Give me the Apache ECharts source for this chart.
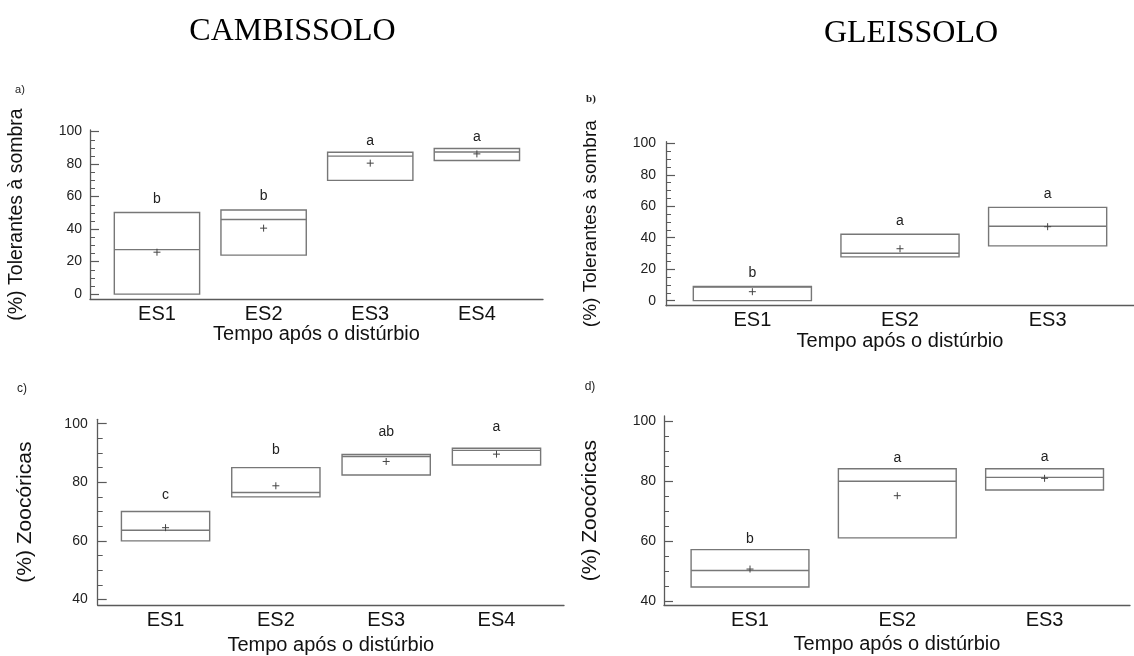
<!DOCTYPE html>
<html>
<head>
<meta charset="utf-8">
<script src="https://cdn.jsdelivr.net/npm/echarts@6/dist/echarts.min.js"></script>
<style>html,body{margin:0;padding:0;background:#fff}#c{width:1134px;height:656px}</style>
</head>
<body>
<div id="c"></div>
<script>
// ---------- DATA ----------
const cats4 = ['ES1', 'ES2', 'ES3', 'ES4'];
const cats3 = ['ES1', 'ES2', 'ES3'];
const soilTitles = ['CAMBISSOLO', 'GLEISSOLO'];
const panelTags = ['a)', 'b)', 'c)', 'd)'];
const yNameShade = '(%) Tolerantes à sombra';
const yNameZoo = '(%) Zoocóricas';
const xName = 'Tempo após o distúrbio';

// a) Cambissolo - tolerantes à sombra
const aLow    = [0, 24, 70, 82.2];
const aHigh   = [50.2, 51.8, 87.3, 89.6];
const aMedian = [27.4, 45.9, 84.9, 87.5];
const aMean   = [25.8, 40.6, 80.6, 86.3];
const aLetters = ['b', 'b', 'a', 'a'];

// b) Gleissolo - tolerantes à sombra
const bLow    = [0, 27.8, 34.8];
const bHigh   = [9, 42.2, 59.3];
const bMedian = [8.6, 30.1, 47.3];
const bMean   = [5.7, 33, 47];
const bLetters = ['b', 'a', 'a'];

// c) Cambissolo - zoocóricas
const cLow    = [60, 75, 82.5, 85.9];
const cHigh   = [70, 85, 89.5, 91.6];
const cMedian = [63.6, 76.5, 88.8, 90.9];
const cMean   = [64.5, 78.8, 87.1, 89.6];
const cLetters = ['c', 'b', 'ab', 'a'];

// d) Gleissolo - zoocóricas
const dLow    = [44.6, 61, 77];
const dHigh   = [57.1, 84.1, 84.1];
const dMedian = [50.1, 79.9, 81.2];
const dMean   = [50.6, 75.1, 80.9];
const dLetters = ['b', 'a', 'a'];

// tick values
const yMajorShade = [0, 20, 40, 60, 80, 100];
const yMinorShade = [5, 10, 15, 25, 30, 35, 45, 50, 55, 65, 70, 75, 85, 90, 95];
const yMajorZoo = [40, 60, 80, 100];
const yMinorZoo = [45, 50, 55, 65, 70, 75, 85, 90, 95];

// ---------- LAYOUT ----------
const FONT = '"Liberation Sans", Arial, sans-serif';
const panels = [
  { cats: cats4, low: aLow, high: aHigh, med: aMedian, mean: aMean, letters: aLetters,
    grid: { left: 90, top: 130, width: 453, height: 169 }, x: [0.372, 4.62], y: [-3, 101],
    major: yMajorShade, minor: yMinorShade, yName: yNameShade,
    yNameGap: 63, yNameSize: 19.5, xNameGap: 19, labOff: [13, 14, 11, 11], lblMargin: 8 },
  { cats: cats3, low: bLow, high: bHigh, med: bMedian, mean: bMean, letters: bLetters,
    grid: { left: 666, top: 141.7, width: 482, height: 164 }, x: [0.415, 3.585], y: [-3.2, 101],
    major: yMajorShade, minor: yMinorShade, yName: yNameShade,
    yNameGap: 66, yNameSize: 19, xNameGap: 21, labOff: [13, 13, 13], lblMargin: 10 },
  { cats: cats4, low: cLow, high: cHigh, med: cMedian, mean: cMean, letters: cLetters,
    grid: { left: 97.7, top: 419.3, width: 466.3, height: 189 }, x: [0.385, 4.612], y: [38.1, 101.5],
    major: yMajorZoo, minor: yMinorZoo, yName: yNameZoo,
    yNameGap: 62, yNameSize: 21, xNameGap: 30, labOff: [16, 17, 22, 21], lblMargin: 10 },
  { cats: cats3, low: dLow, high: dHigh, med: dMedian, mean: dMean, letters: dLetters,
    grid: { left: 664, top: 416, width: 466, height: 189.3 }, x: [0.416, 3.58], y: [38.5, 101.7],
    major: yMajorZoo, minor: yMinorZoo, yName: yNameZoo,
    yNameGap: 63, yNameSize: 21, xNameGap: 29, labOff: [10, 11, 12], lblMargin: 8 }
];

const AXIS_COLOR = '#5a5a5a';
const BOX_COLOR = '#777';
const HALF = 0.4;

const grids = [], xAxes = [], yAxes = [], series = [];
panels.forEach((p, i) => {
  grids.push(Object.assign({ containLabel: false }, p.grid));
  xAxes.push({
    type: 'value', gridIndex: i, min: p.x[0], max: p.x[1],
    splitLine: { show: false }, axisTick: { show: false },
    axisLine: { show: true, onZero: false, lineStyle: { color: AXIS_COLOR, width: 1.3 } },
    axisLabel: { customValues: p.cats.map((c, k) => k + 1), formatter: v => p.cats[Math.round(v) - 1] || '',
      fontSize: 20, fontFamily: FONT, color: '#111', margin: 5 },
    name: xName, nameLocation: 'middle', nameGap: p.xNameGap,
    nameTextStyle: { fontSize: 20, fontFamily: FONT, color: '#111' }
  });
  // main y axis (labels + major ticks)
  yAxes.push({
    type: 'value', gridIndex: i, min: p.y[0], max: p.y[1],
    splitLine: { show: false },
    axisLine: { show: true, onZero: false, lineStyle: { color: AXIS_COLOR, width: 1.3 } },
    axisTick: { show: true, inside: true, length: 9, customValues: p.major, lineStyle: { color: AXIS_COLOR, width: 1.2 } },
    axisLabel: { customValues: p.major, fontSize: 14, fontFamily: FONT, color: '#222', margin: p.lblMargin },
    name: p.yName, nameLocation: 'middle', nameGap: p.yNameGap, nameRotate: 90,
    nameTextStyle: { fontSize: p.yNameSize, fontFamily: FONT, color: '#111' }
  });
  // minor ticks axis
  yAxes.push({
    type: 'value', gridIndex: i, min: p.y[0], max: p.y[1], position: 'left',
    splitLine: { show: false }, axisLine: { show: false },
    axisTick: { show: true, inside: true, length: 5, customValues: p.minor, lineStyle: { color: AXIS_COLOR, width: 1 } },
    axisLabel: { show: false }
  });
  const data = p.cats.map((c, k) => [k + 1, p.low[k], p.high[k], p.med[k], p.mean[k]]);
  series.push({
    type: 'custom', xAxisIndex: i, yAxisIndex: i * 2, clip: false, silent: true,
    data: data,
    renderItem: (params, api) => {
      const x = api.value(0), lo = api.value(1), hi = api.value(2), med = api.value(3), mean = api.value(4);
      const tl = api.coord([x - HALF, hi]);
      const br = api.coord([x + HALF, lo]);
      const m1 = api.coord([x - HALF, med]);
      const m2 = api.coord([x + HALF, med]);
      const pc = api.coord([x, mean]);
      const top = api.coord([x, hi]);
      const s = 3.5;
      return {
        type: 'group',
        children: [
          { type: 'rect', shape: { x: tl[0], y: tl[1], width: br[0] - tl[0], height: br[1] - tl[1] },
            style: { fill: 'none', stroke: BOX_COLOR, lineWidth: 1.4 } },
          { type: 'line', shape: { x1: m1[0], y1: m1[1], x2: m2[0], y2: m2[1] },
            style: { stroke: BOX_COLOR, lineWidth: 1.4 } },
          { type: 'line', shape: { x1: pc[0] - s, y1: pc[1], x2: pc[0] + s, y2: pc[1] },
            style: { stroke: '#444', lineWidth: 1 } },
          { type: 'line', shape: { x1: pc[0], y1: pc[1] - s, x2: pc[0], y2: pc[1] + s },
            style: { stroke: '#444', lineWidth: 1 } },
          { type: 'text', x: top[0], y: top[1] - p.labOff[params.dataIndex],
            style: { text: p.letters[params.dataIndex], align: 'center', verticalAlign: 'middle',
              fontSize: 14, fontFamily: FONT, fill: '#222' } }
        ]
      };
    }
  });
});

const graphic = [
  { type: 'text', x: 292.5, y: 32, style: { text: soilTitles[0], align: 'center', verticalAlign: 'middle',
      fontSize: 32, fontFamily: '"Liberation Serif", "Times New Roman", serif', fill: '#000' } },
  { type: 'text', x: 911, y: 34, style: { text: soilTitles[1], align: 'center', verticalAlign: 'middle',
      fontSize: 32, fontFamily: '"Liberation Serif", "Times New Roman", serif', fill: '#000' } },
  { type: 'text', x: 20, y: 90, style: { text: panelTags[0], align: 'center', verticalAlign: 'middle',
      fontSize: 11, fontFamily: FONT, fill: '#222' } },
  { type: 'text', x: 591, y: 99, style: { text: panelTags[1], align: 'center', verticalAlign: 'middle',
      fontSize: 11, fontWeight: 'bold', fontFamily: '"Liberation Serif", serif', fill: '#222' } },
  { type: 'text', x: 22, y: 389, style: { text: panelTags[2], align: 'center', verticalAlign: 'middle',
      fontSize: 12, fontFamily: FONT, fill: '#222' } },
  { type: 'text', x: 590, y: 387, style: { text: panelTags[3], align: 'center', verticalAlign: 'middle',
      fontSize: 12, fontFamily: FONT, fill: '#222' } }
];

const chart = echarts.init(document.getElementById('c'), null, { renderer: 'canvas' });
chart.setOption({
  animation: false,
  backgroundColor: '#fff',
  grid: grids, xAxis: xAxes, yAxis: yAxes, series: series, graphic: graphic
});
</script>
</body>
</html>
